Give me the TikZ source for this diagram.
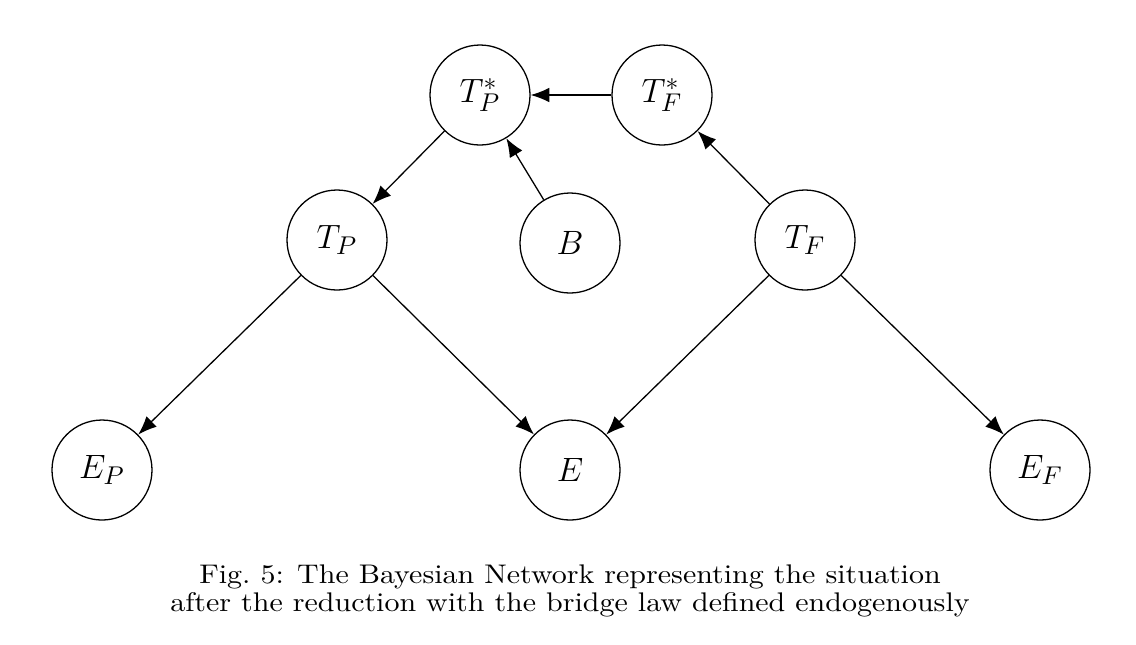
\documentclass[tikz,border=0pt]{standalone}
\usepackage{tikz}
\usepackage{graphicx}
\usetikzlibrary{arrows.meta}
\tikzset{
  bnvar/.style={circle,draw,line width=0.55pt,minimum size=100*0.015cm,inner sep=0pt,
    font=\fontsize{15}{18}\selectfont},
  bnedge/.style={-{Latex[length=2.8mm,width=2.2mm]},line width=0.55pt}
}

\begin{document}
\begin{tikzpicture}[x=0.015cm,y=-0.015cm]
  \useasboundingbox (0,0) rectangle (1136,644);
  \node[bnvar] (TPs) at (480,95) {$T_P^*$};
  \node[bnvar] (TFs) at (662,95) {$T_F^*$};
  \node[bnvar] (TP) at (337,240) {$T_P$};
  \node[bnvar] (B) at (570,243) {$B$};
  \node[bnvar] (TF) at (805,240) {$T_F$};
  \node[bnvar] (EP) at (102,470) {$E_P$};
  \node[bnvar] (E) at (570,470) {$E$};
  \node[bnvar] (EF) at (1040,470) {$E_F$};
  \draw[bnedge] (TFs) -- (TPs);
  \draw[bnedge] (B) -- (TPs);
  \draw[bnedge] (TPs) -- (TP);
  \draw[bnedge] (TF) -- (TFs);
  \draw[bnedge] (TP) -- (EP);
  \draw[bnedge] (TP) -- (E);
  \draw[bnedge] (TF) -- (E);
  \draw[bnedge] (TF) -- (EF);
  \node (cap) at (570,591)
    {\scalebox{1.28}[1.15]{\begin{tabular}{@{}c@{}}
     Fig.~5: The Bayesian Network representing the situation\\[-1.6pt]
     after the reduction with the bridge law defined endogenously
     \end{tabular}}};
\end{tikzpicture}
\end{document}
